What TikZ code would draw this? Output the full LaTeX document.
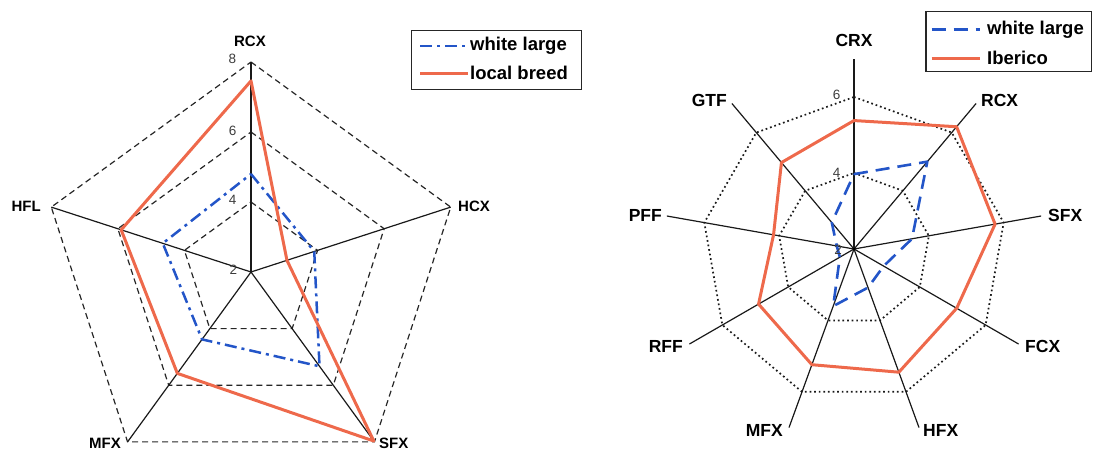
\documentclass[tikz,border=0pt]{standalone}
\usepackage{fontspec}
\setmainfont{Liberation Sans}
\definecolor{redline}{RGB}{238,105,75}
\definecolor{blueline}{RGB}{35,85,200}
\definecolor{scalegray}{RGB}{60,60,60}
\tikzset{
 gridL/.style={black!85, line width=1.2pt, dash pattern=on 6pt off 4pt},
 gridR/.style={black!90, line width=1.7pt, dash pattern=on 1.7pt off 2.9pt},
 axisline/.style={black!90, line width=1.2pt},
 wlL/.style={blueline, line width=2.5pt, dash pattern=on 12pt off 5pt on 3pt off 5pt, line join=round},
 wlR/.style={blueline, line width=2.6pt, dash pattern=on 14pt off 8pt, line join=round},
 redL/.style={redline, line width=3pt, line join=round},
 labL/.style={inner sep=0pt, font=\fontsize{15}{17}\selectfont\bfseries},
 labR/.style={inner sep=0pt, font=\fontsize{17.5}{20}\selectfont\bfseries},
 scalelab/.style={inner sep=0pt, text=scalegray, font=\fontsize{13.5}{15}\selectfont},
 legtext/.style={inner sep=0pt, anchor=west, font=\fontsize{18.5}{21}\selectfont\bfseries},
 legbox/.style={draw=black!85, line width=1.3pt},
}
\begin{document}
\begin{tikzpicture}[x=1pt,y=1pt]
\useasboundingbox (0,0) rectangle (1093,456);
% ================= LEFT CHART =================
\coordinate (Lc) at (251,184);
\begin{scope}[shift={(Lc)}]
 \foreach \v in {4,6,8}{
  \pgfmathsetmacro{\r}{(\v-2)*35}
  \draw[gridL] (90:\r) -- (18:\r) -- (-54:\r) -- (-126:\r) -- (162:\r) -- cycle;
 }
 \foreach \a/\n in {90/RCX,18/HCX,-54/SFX,-126/MFX,162/HFL}{
  \draw[axisline] (0,0) -- (\a:210) coordinate (Lt\n);
 }
 \draw[wlL] (90:{(4.8-2)*35}) -- (18:{(3.9-2)*35}) -- (-54:{(5.33-2)*35})
   -- (-126:{(4.38-2)*35}) -- (162:{(4.65-2)*35}) -- cycle;
 \draw[redL] (90:{(7.46-2)*35}) -- (18:{(3.08-2)*35}) -- (-54:{(7.97-2)*35})
   -- (-126:{(5.58-2)*35}) -- (162:{(5.9-2)*35}) -- cycle;
\end{scope}
\node[labL] (lRCX) at (250,414.3) {RCX};
\node[labL,anchor=west] (lHCX) at (458,249.3) {HCX};
\node[labL,anchor=west] (lSFX) at (379,13) {SFX};
\node[labL,anchor=east] (lMFX) at (121,13) {MFX};
\node[labL,anchor=east] (lHFL) at (41,249.5) {HFL};
\node[scalelab] (s8) at (232.5,396.7) {8};
\node[scalelab] (s6) at (232.7,325.3) {6};
\node[scalelab] (s4) at (232.7,256) {4};
\node[scalelab] (s2) at (233.3,186) {2};
% left legend
\draw[legbox] (411.7,366.7) rectangle (581.7,425.3);
\coordinate (la1) at (420,410); \coordinate (la2) at (468,410);
\coordinate (lb1) at (420,382.7); \coordinate (lb2) at (468,382.7);
\draw[wlL] (la1) -- (la2);
\draw[redL] (lb1) -- (lb2);
\node[legtext] (lt1) at (470,410) {white large};
\node[legtext] (lt2) at (470,382.7) {local breed};
% ================= RIGHT CHART =================
\coordinate (Rc) at (854,207);
\begin{scope}[shift={(Rc)}]
 \foreach \v in {4,6}{
  \pgfmathsetmacro{\r}{(\v-2)*38}
  \draw[gridR] (90:\r) -- (50:\r) -- (10:\r) -- (-30:\r) -- (-70:\r) -- (-110:\r)
    -- (-150:\r) -- (170:\r) -- (130:\r) -- cycle;
 }
 \foreach \a/\n in {90/CRX,50/RCX,10/SFX,-30/FCX,-70/HFX,-110/MFX,-150/RFF,170/PFF,130/GTF}{
  \draw[axisline] (0,0) -- (\a:190) coordinate (Rt\n);
 }
 \draw[redL] (90:{(5.38-2)*38}) -- (50:{(6.2-2)*38}) -- (10:{(5.77-2)*38})
   -- (-30:{(5.12-2)*38}) -- (-70:{(5.45-2)*38}) -- (-110:{(5.24-2)*38})
   -- (-150:{(4.9-2)*38}) -- (170:{(4.15-2)*38}) -- (130:{(4.97-2)*38}) -- cycle;
 \draw[wlR] (90:{(3.97-2)*38}) -- (50:{(5.0-2)*38}) -- (10:{(3.55-2)*38})
   -- (-30:{(2.9-2)*38}) -- (-70:{(3.08-2)*38}) -- (-110:{(3.6-2)*38})
   -- (-150:{(2.43-2)*38}) -- (170:{(2.46-2)*38}) -- (130:{(2.91-2)*38}) -- cycle;
\end{scope}
\fill (Rc) circle (1.5pt);
\node[labR] (rCRX) at (854,416) {CRX};
\node[labR,anchor=west] (rRCX) at (981,356) {RCX};
\node[labR,anchor=west] (rSFX) at (1048,241) {SFX};
\node[labR,anchor=west] (rFCX) at (1025,110) {FCX};
\node[labR,anchor=west] (rHFX) at (923,26) {HFX};
\node[labR,anchor=east] (rMFX) at (783,26) {MFX};
\node[labR,anchor=east] (rRFF) at (683,110) {RFF};
\node[labR,anchor=east] (rPFF) at (662,241) {PFF};
\node[labR,anchor=east] (rGTF) at (727,356) {GTF};
\node[scalelab] (r6) at (836.7,361) {6};
\node[scalelab] (r4) at (836.7,283.3) {4};
\node[scalelab] (r2) at (838,206) {2};
% right legend
\draw[legbox] (926,384.3) rectangle (1091.5,444.3);
\coordinate (ra1) at (931.7,426.7); \coordinate (ra2) at (980,426.7);
\coordinate (rb1) at (931.7,397.7); \coordinate (rb2) at (980,397.7);
\draw[blueline, line width=2.6pt, dash pattern=on 14pt off 8pt] (ra1) -- (ra2);
\draw[redL] (rb1) -- (rb2);
\node[legtext] (rt1) at (987,426.7) {white large};
\node[legtext] (rt2) at (987,397.7) {Iberico};
\end{tikzpicture}
\end{document}
